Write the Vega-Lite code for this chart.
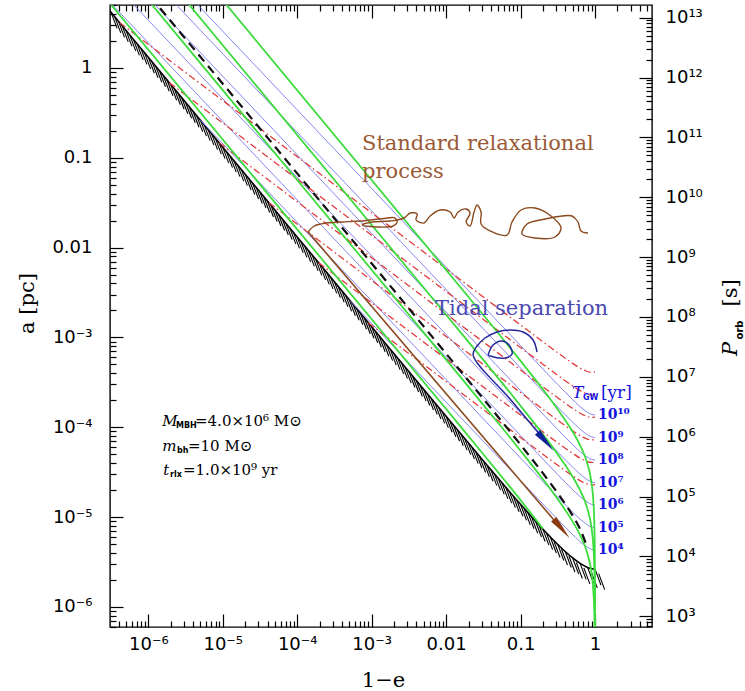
{
"$schema":"https://vega.github.io/schema/vega-lite/v6.json",
"width":542,"height":622,
"autosize":{"type":"none"},
"padding":{"left":110,"top":5,"right":93,"bottom":64},
"background":"white",
"config":{"view":{"stroke":"#000","strokeWidth":1.4}},
"datasets":{
"hatch":[{"x":3.162e-7,"y":4.159},{"x":3.981e-7,"y":3.304},{"x":5.012e-7,"y":2.624},{"x":6.31e-7,"y":2.084},{"x":7.943e-7,"y":1.656},{"x":1e-6,"y":1.315},{"x":1.259e-6,"y":1.045},{"x":1.585e-6,"y":0.8299},{"x":1.995e-6,"y":0.6592},{"x":2.512e-6,"y":0.5236},{"x":3.162e-6,"y":0.4159},{"x":3.981e-6,"y":0.3304},{"x":5.012e-6,"y":0.2624},{"x":6.31e-6,"y":0.2084},{"x":7.943e-6,"y":0.1656},{"x":1e-5,"y":0.1315},{"x":1.259e-5,"y":0.1045},{"x":1.585e-5,"y":0.08299},{"x":1.995e-5,"y":0.06592},{"x":2.512e-5,"y":0.05236},{"x":3.162e-5,"y":0.04159},{"x":3.981e-5,"y":0.03304},{"x":5.012e-5,"y":0.02624},{"x":6.31e-5,"y":0.02084},{"x":7.943e-5,"y":0.01656},{"x":1e-4,"y":0.01315},{"x":1.259e-4,"y":0.01045},{"x":1.585e-4,"y":0.008299},{"x":1.995e-4,"y":0.006592},{"x":2.512e-4,"y":0.005236},{"x":3.162e-4,"y":0.004159},{"x":3.981e-4,"y":0.003304},{"x":5.012e-4,"y":0.002624},{"x":6.31e-4,"y":0.002084},{"x":7.943e-4,"y":0.001656},{"x":0.001,"y":0.001315},{"x":0.001259,"y":0.001045},{"x":0.001585,"y":0.0008299},{"x":0.001995,"y":0.0006592},{"x":0.002512,"y":0.0005236},{"x":0.003162,"y":0.0004166},{"x":0.003981,"y":0.000331},{"x":0.005012,"y":0.000263},{"x":0.00631,"y":0.000209},{"x":0.007943,"y":0.0001662},{"x":0.01,"y":0.0001322},{"x":0.012589,"y":0.00010512},{"x":0.015849,"y":8.365e-5},{"x":0.019953,"y":6.657e-5},{"x":0.025119,"y":5.302e-5},{"x":0.031623,"y":4.227e-5},{"x":0.039811,"y":3.37e-5},{"x":0.050119,"y":2.691e-5},{"x":0.063096,"y":2.152e-5},{"x":0.079433,"y":1.724e-5},{"x":0.1,"y":1.384e-5},{"x":0.125893,"y":1.115e-5},{"x":0.158489,"y":9.012e-6},{"x":0.199526,"y":7.323e-6},{"x":0.251189,"y":5.989e-6},{"x":0.316228,"y":4.939e-6},{"x":0.398107,"y":4.124e-6},{"x":0.501187,"y":3.501e-6},{"x":0.630957,"y":3.045e-6},{"x":0.794328,"y":2.747e-6},{"x":1,"y":2.63e-6}],
"bound":[{"x":3.0e-7,"y":4.383},{"x":1e-6,"y":1.315},{"x":1e-4,"y":0.01315},{"x":0.001,"y":0.0013157},{"x":0.01,"y":0.00013216},{"x":0.031623,"y":4.2266e-5},{"x":0.1,"y":1.3842e-5},{"x":0.199526,"y":7.3232e-6},{"x":0.316228,"y":4.9392e-6},{"x":0.501187,"y":3.5015e-6},{"x":0.630957,"y":3.0451e-6},{"x":0.794328,"y":2.7467e-6},{"x":0.891251,"y":2.662e-6},{"x":1,"y":2.6303e-6}],
"gw":[
{"k":10,"x":1e-7,"y":144.2},{"k":10,"x":0.001,"y":0.04561},{"k":10,"x":0.01,"y":0.006082},{"k":10,"x":0.031623,"y":0.002222},{"k":10,"x":0.1,"y":0.0008121},{"k":10,"x":0.199526,"y":0.0004447},{"k":10,"x":0.316228,"y":0.0002987},{"k":10,"x":0.501187,"y":0.0002029},{"k":10,"x":0.707946,"y":0.0001567},{"k":10,"x":0.891251,"y":0.0001394},{"k":10,"x":1,"y":0.0001367},
{"k":9,"x":1e-7,"y":80.97},{"k":9,"x":0.001,"y":0.02561},{"k":9,"x":0.01,"y":0.003415},{"k":9,"x":0.031623,"y":0.001248},{"k":9,"x":0.1,"y":0.000456},{"k":9,"x":0.199526,"y":0.0002497},{"k":9,"x":0.316228,"y":0.0001677},{"k":9,"x":0.501187,"y":0.0001139},{"k":9,"x":0.707946,"y":8.799e-5},{"k":9,"x":0.891251,"y":7.827e-5},{"k":9,"x":1,"y":7.676e-5},
{"k":8,"x":1e-7,"y":45.46},{"k":8,"x":0.001,"y":0.01438},{"k":8,"x":0.01,"y":0.001918},{"k":8,"x":0.031623,"y":0.0007006},{"k":8,"x":0.1,"y":0.000256},{"k":8,"x":0.199526,"y":0.0001402},{"k":8,"x":0.316228,"y":9.417e-5},{"k":8,"x":0.501187,"y":6.397e-5},{"k":8,"x":0.707946,"y":4.941e-5},{"k":8,"x":0.891251,"y":4.395e-5},{"k":8,"x":1,"y":4.31e-5},
{"k":7,"x":1e-7,"y":25.53},{"k":7,"x":0.001,"y":0.008074},{"k":7,"x":0.01,"y":0.001077},{"k":7,"x":0.031623,"y":0.0003934},{"k":7,"x":0.1,"y":0.0001438},{"k":7,"x":0.199526,"y":7.873e-5},{"k":7,"x":0.316228,"y":5.288e-5},{"k":7,"x":0.501187,"y":3.592e-5},{"k":7,"x":0.707946,"y":2.774e-5},{"k":7,"x":0.891251,"y":2.468e-5},{"k":7,"x":1,"y":2.42e-5},
{"k":6,"x":1e-7,"y":14.33},{"k":6,"x":0.001,"y":0.004534},{"k":6,"x":0.01,"y":0.0006046},{"k":6,"x":0.031623,"y":0.0002209},{"k":6,"x":0.1,"y":8.073e-5},{"k":6,"x":0.199526,"y":4.42e-5},{"k":6,"x":0.316228,"y":2.969e-5},{"k":6,"x":0.501187,"y":2.017e-5},{"k":6,"x":0.707946,"y":1.558e-5},{"k":6,"x":0.891251,"y":1.386e-5},{"k":6,"x":1,"y":1.359e-5},
{"k":5,"x":5.012e-6,"y":0.2623},{"k":5,"x":0.001,"y":0.002546},{"k":5,"x":0.01,"y":0.0003394},{"k":5,"x":0.031623,"y":0.000124},{"k":5,"x":0.1,"y":4.533e-5},{"k":5,"x":0.199526,"y":2.482e-5},{"k":5,"x":0.316228,"y":1.667e-5},{"k":5,"x":0.501187,"y":1.132e-5},{"k":5,"x":0.707946,"y":8.747e-6},{"k":5,"x":0.891251,"y":7.781e-6},{"k":5,"x":1,"y":7.63e-6},
{"k":4,"x":5.129e-4,"y":0.002567},{"k":4,"x":0.001,"y":0.00143},{"k":4,"x":0.01,"y":0.0001906},{"k":4,"x":0.031623,"y":6.964e-5},{"k":4,"x":0.1,"y":2.545e-5},{"k":4,"x":0.199526,"y":1.394e-5},{"k":4,"x":0.316228,"y":9.361e-6},{"k":4,"x":0.501187,"y":6.358e-6},{"k":4,"x":0.707946,"y":4.912e-6},{"k":4,"x":0.891251,"y":4.369e-6},{"k":4,"x":1,"y":4.287e-6}],
"red":[
{"k":1,"x":4.134e-7,"y":3.182},{"k":1,"x":0.001,"y":0.02442},{"k":1,"x":0.01,"y":0.005792},{"k":1,"x":0.031623,"y":0.002821},{"k":1,"x":0.1,"y":0.001375},{"k":1,"x":0.199526,"y":0.0008951},{"k":1,"x":0.316228,"y":0.0006745},{"k":1,"x":0.501187,"y":0.0005141},{"k":1,"x":0.707946,"y":0.0004329},{"k":1,"x":0.891251,"y":0.0004078},{"k":1,"x":1,"y":0.0004117},
{"k":2,"x":1.926e-6,"y":0.6828},{"k":2,"x":0.001,"y":0.01371},{"k":2,"x":0.01,"y":0.003252},{"k":2,"x":0.031623,"y":0.001584},{"k":2,"x":0.1,"y":0.0007721},{"k":2,"x":0.199526,"y":0.0005026},{"k":2,"x":0.316228,"y":0.0003787},{"k":2,"x":0.501187,"y":0.0002887},{"k":2,"x":0.707946,"y":0.0002431},{"k":2,"x":0.891251,"y":0.000229},{"k":2,"x":1,"y":0.0002312},
{"k":3,"x":8.967e-6,"y":0.1467},{"k":3,"x":0.001,"y":0.007699},{"k":3,"x":0.01,"y":0.001826},{"k":3,"x":0.031623,"y":0.0008894},{"k":3,"x":0.1,"y":0.0004335},{"k":3,"x":0.199526,"y":0.0002822},{"k":3,"x":0.316228,"y":0.0002127},{"k":3,"x":0.501187,"y":0.0001621},{"k":3,"x":0.707946,"y":0.0001365},{"k":3,"x":0.891251,"y":0.0001286},{"k":3,"x":1,"y":0.0001298},
{"k":4,"x":4.176e-5,"y":0.03148},{"k":4,"x":0.001,"y":0.004323},{"k":4,"x":0.01,"y":0.001025},{"k":4,"x":0.031623,"y":0.0004994},{"k":4,"x":0.1,"y":0.0002434},{"k":4,"x":0.199526,"y":0.0001584},{"k":4,"x":0.316228,"y":0.0001194},{"k":4,"x":0.501187,"y":9.101e-5},{"k":4,"x":0.707946,"y":7.665e-5},{"k":4,"x":0.891251,"y":7.219e-5},{"k":4,"x":1,"y":7.287e-5},
{"k":5,"x":1.945e-4,"y":0.006761},{"k":5,"x":0.001,"y":0.002427},{"k":5,"x":0.01,"y":0.0005757},{"k":5,"x":0.031623,"y":0.0002804},{"k":5,"x":0.1,"y":0.0001367},{"k":5,"x":0.199526,"y":8.892e-5},{"k":5,"x":0.316228,"y":6.705e-5},{"k":5,"x":0.501187,"y":5.11e-5},{"k":5,"x":0.707946,"y":4.303e-5},{"k":5,"x":0.891251,"y":4.053e-5},{"k":5,"x":1,"y":4.091e-5},
{"k":6,"x":9.06e-4,"y":0.001451},{"k":6,"x":0.001,"y":0.001363},{"k":6,"x":0.01,"y":0.0003233},{"k":6,"x":0.031623,"y":0.0001574},{"k":6,"x":0.1,"y":7.674e-5},{"k":6,"x":0.199526,"y":4.993e-5},{"k":6,"x":0.316228,"y":3.765e-5},{"k":6,"x":0.501187,"y":2.869e-5},{"k":6,"x":0.707946,"y":2.416e-5},{"k":6,"x":0.891251,"y":2.276e-5},{"k":6,"x":1,"y":2.297e-5}],
"green":[
{"k":4,"x":1e-7,"y":567.6},{"k":4,"x":0.01,"y":0.005656},{"k":4,"x":0.031623,"y":0.001775},{"k":4,"x":0.1,"y":0.0005473},{"k":4,"x":0.199526,"y":0.0002636},{"k":4,"x":0.316228,"y":0.0001576},{"k":4,"x":0.501187,"y":8.892e-5},{"k":4,"x":0.630957,"y":6.29e-5},{"k":4,"x":0.794328,"y":3.87e-5},{"k":4,"x":0.891251,"y":2.496e-5},{"k":4,"x":0.95,"y":1.512e-5},{"k":4,"x":0.98,"y":8.457e-6},{"k":4,"x":0.995,"y":3.522e-6},{"k":4,"x":0.999,"y":1.274e-6},{"k":4,"x":0.9999,"y":2.976e-7},
{"k":3,"x":1e-7,"y":179.5},{"k":3,"x":0.01,"y":0.001789},{"k":3,"x":0.031623,"y":0.0005613},{"k":3,"x":0.1,"y":0.0001731},{"k":3,"x":0.199526,"y":8.336e-5},{"k":3,"x":0.316228,"y":4.984e-5},{"k":3,"x":0.501187,"y":2.812e-5},{"k":3,"x":0.630957,"y":1.989e-5},{"k":3,"x":0.794328,"y":1.224e-5},{"k":3,"x":0.891251,"y":7.893e-6},{"k":3,"x":0.95,"y":4.781e-6},{"k":3,"x":0.98,"y":2.674e-6},{"k":3,"x":0.995,"y":1.114e-6},{"k":3,"x":0.999,"y":4.03e-7},
{"k":2,"x":1e-7,"y":56.76},{"k":2,"x":0.01,"y":0.0005656},{"k":2,"x":0.031623,"y":0.0001775},{"k":2,"x":0.1,"y":5.473e-5},{"k":2,"x":0.199526,"y":2.636e-5},{"k":2,"x":0.316228,"y":1.576e-5},{"k":2,"x":0.501187,"y":8.892e-6},{"k":2,"x":0.630957,"y":6.29e-6},{"k":2,"x":0.794328,"y":3.87e-6},{"k":2,"x":0.891251,"y":2.496e-6},{"k":2,"x":0.95,"y":1.512e-6},{"k":2,"x":0.98,"y":8.457e-7},{"k":2,"x":0.995,"y":3.522e-7},
{"k":1,"x":1e-7,"y":16.0},{"k":1,"x":0.01,"y":0.0001594},{"k":1,"x":0.031623,"y":5.003e-5},{"k":1,"x":0.1,"y":1.543e-5},{"k":1,"x":0.199526,"y":7.429e-6}],
"dash":[{"x":1e-7,"y":66.2},{"x":0.01,"y":0.0006599},{"x":0.031623,"y":0.0002071},{"x":0.1,"y":6.386e-5},{"x":0.199526,"y":3.076e-5},{"x":0.316228,"y":1.839e-5},{"x":0.501187,"y":1.0375e-5},{"x":0.630957,"y":7.339e-6},{"x":0.794328,"y":4.516e-6}],
"brown":[{"x":1.405e-4,"y":0.01492},{"x":0.3715,"y":7.063e-6}],
"wig":[{"o":1,"x":1.405e-4,"y":0.01492},{"o":2,"x":1.691e-4,"y":0.0174},{"o":3,"x":2.45e-4,"y":0.01878},{"o":4,"x":4.018e-4,"y":0.01928},{"o":5,"x":7.009e-4,"y":0.01978},{"o":6,"x":0.0013,"y":0.02082},{"o":7,"x":0.002067,"y":0.02136},{"o":8,"x":0.002199,"y":0.01928},{"o":9,"x":0.001943,"y":0.0174},{"o":10,"x":0.001222,"y":0.01696},{"o":11,"x":7.456e-4,"y":0.01785},{"o":12,"x":0.001016,"y":0.01928},{"o":13,"x":0.001771,"y":0.01978},{"o":14,"x":0.00273,"y":0.02136},{"o":15,"x":0.003287,"y":0.02428},{"o":16,"x":0.004079,"y":0.02366},{"o":17,"x":0.003956,"y":0.02029},{"o":18,"x":0.005066,"y":0.01878},{"o":19,"x":0.006097,"y":0.02248},{"o":20,"x":0.008307,"y":0.02623},{"o":21,"x":0.01132,"y":0.02491},{"o":22,"x":0.0128,"y":0.02136},{"o":23,"x":0.01449,"y":0.02491},{"o":24,"x":0.01856,"y":0.0269},{"o":25,"x":0.02099,"y":0.02428},{"o":26,"x":0.01856,"y":0.01928},{"o":27,"x":0.02099,"y":0.0174},{"o":28,"x":0.02375,"y":0.02491},{"o":29,"x":0.02607,"y":0.0298},{"o":30,"x":0.0295,"y":0.02491},{"o":31,"x":0.0295,"y":0.01831},{"o":32,"x":0.03897,"y":0.01531},{"o":33,"x":0.06589,"y":0.01381},{"o":34,"x":0.07688,"y":0.01928},{"o":35,"x":0.1016,"y":0.02623},{"o":36,"x":0.1565,"y":0.02761},{"o":37,"x":0.2566,"y":0.02248},{"o":38,"x":0.3496,"y":0.01653},{"o":39,"x":0.2904,"y":0.01312},{"o":40,"x":0.1565,"y":0.01279},{"o":41,"x":0.1047,"y":0.01417},{"o":42,"x":0.1222,"y":0.01831},{"o":43,"x":0.2133,"y":0.02082},{"o":44,"x":0.3606,"y":0.02248},{"o":45,"x":0.4913,"y":0.02248},{"o":46,"x":0.5911,"y":0.01928},{"o":47,"x":0.6486,"y":0.01531},{"o":48,"x":0.8055,"y":0.01454}],
"tid":[{"s":1,"o":1,"x":0.1665,"y":6.879e-4},{"s":1,"o":2,"x":0.1472,"y":9.355e-4},{"s":1,"o":3,"x":0.108,"y":0.001148},{"s":1,"o":4,"x":0.07226,"y":0.001209},{"s":1,"o":5,"x":0.04837,"y":0.001148},{"s":1,"o":6,"x":0.03338,"y":9.847e-4},{"s":1,"o":7,"x":0.02607,"y":8.02e-4},{"s":1,"o":8,"x":0.02304,"y":6.368e-4},{"s":1,"o":9,"x":0.07226,"y":2.061e-4},{"s":1,"o":10,"x":0.2268,"y":6.669e-5},
{"s":2,"o":1,"x":0.03663,"y":6.368e-4},{"s":2,"o":2,"x":0.04274,"y":8.229e-4},{"s":2,"o":3,"x":0.05644,"y":9.119e-4},{"s":2,"o":4,"x":0.07006,"y":8.229e-4},{"s":2,"o":5,"x":0.07688,"y":6.533e-4},{"s":2,"o":6,"x":0.06191,"y":5.897e-4},{"s":2,"o":7,"x":0.03897,"y":6.206e-4},{"s":2,"o":8,"x":0.03663,"y":6.368e-4}],
"arrB":[{"x":0.3285,"y":8.063e-6}],
"arrT":[{"x":0.2002,"y":7.483e-5}],
"tlab":[{"x":1,"y":1.367e-4,"t":"10¹⁰"},{"x":1,"y":7.676e-5,"t":"10⁹"},{"x":1,"y":4.31e-5,"t":"10⁸"},{"x":1,"y":2.42e-5,"t":"10⁷"},{"x":1,"y":1.359e-5,"t":"10⁶"},{"x":1,"y":7.63e-6,"t":"10⁵"},{"x":1,"y":4.287e-6,"t":"10⁴"}],
"brownTxt":[{"x":7.42e-4,"y":0.1425,"t":"Standard relaxational"},{"x":7.42e-4,"y":0.06948,"t":"process"}],
"tidTxt":[{"x":7.096e-3,"y":2.071e-3,"t":"Tidal separation"}],
"parI":[{"x":1.541e-6,"y":1.172e-4,"t":"M"},{"x":1.541e-6,"y":6.174e-5,"t":"m"},{"x":1.589e-6,"y":3.337e-5,"t":"t"}],
"parS":[{"x":2.355e-6,"y":1.172e-4,"t":"MBH"},{"x":2.429e-6,"y":6.174e-5,"t":"bh"},{"x":1.956e-6,"y":3.337e-5,"t":"rlx"}],
"parU":[{"x":4.239e-6,"y":1.172e-4,"t":"=4.0×10⁶ M⊙"},{"x":3.414e-6,"y":6.174e-5,"t":"=10 M⊙"},{"x":2.924e-6,"y":3.337e-5,"t":"=1.0×10⁹ yr"}],
"tgwI":[{"x":0.4911,"y":2.403e-4,"t":"T"}],
"tgwS":[{"x":0.6899,"y":2.403e-4,"t":"GW"}],
"tgwU":[{"x":1.2,"y":2.403e-4,"t":"[yr]"}],
"porbI":[{"x":66.92,"y":7.426e-4,"t":"P"}],
"porbS":[{"x":88.35,"y":1.209e-3,"t":"orb"}],
"porbU":[{"x":66.92,"y":3.123e-3,"t":"[s]"}]
},
"layer":[
{
"encoding":{
"x":{"field":"x","type":"quantitative","scale":{"type":"log","domain":[3.058e-7,5.831],"nice":false},
"axis":{"orient":"bottom","values":[4e-7,5e-7,6e-7,7e-7,8e-7,9e-7,1e-6,2e-6,3e-6,4e-6,5e-6,6e-6,7e-6,8e-6,9e-6,1e-5,2e-5,3e-5,4e-5,5e-5,6e-5,7e-5,8e-5,9e-5,1e-4,2e-4,3e-4,4e-4,5e-4,6e-4,7e-4,8e-4,9e-4,0.001,0.002,0.003,0.004,0.005,0.006,0.007,0.008,0.009,0.01,0.02,0.03,0.04,0.05,0.06,0.07,0.08,0.09,0.1,0.2,0.3,0.4,0.5,0.6,0.7,0.8,0.9,1,2,3,4,5],
"labelExpr":"abs(log(datum.value)/LN10-round(log(datum.value)/LN10))<0.0001 ? (datum.value>=0.005 ? ''+datum.value : '10⁻'+['','¹','²','³','⁴','⁵','⁶','⁷'][-round(log(datum.value)/LN10)]) : ''",
"tickSize":{"condition":{"test":"abs(log(datum.value)/LN10-round(log(datum.value)/LN10))<0.0001","value":-13},"value":-6},
"labelPadding":21,"tickColor":"#000","tickWidth":1.2,"domain":false,"grid":false,
"labelFont":"DejaVu Sans","labelFontSize":18,"labelColor":"#000","labelOverlap":false,"labelFlush":false,"labelBound":false,
"title":"1−e","titleFont":"DejaVu Serif","titleFontSize":21,"titleFontWeight":"normal","titleColor":"#000","titleX":273,"titleY":53,"titleBaseline":"middle","titleAlign":"center"}},
"y":{"field":"y","type":"quantitative","scale":{"type":"log","domain":[5.959e-7,5.029],"nice":false},
"axis":{"orient":"left","values":[6e-7,7e-7,8e-7,9e-7,1e-6,2e-6,3e-6,4e-6,5e-6,6e-6,7e-6,8e-6,9e-6,1e-5,2e-5,3e-5,4e-5,5e-5,6e-5,7e-5,8e-5,9e-5,1e-4,2e-4,3e-4,4e-4,5e-4,6e-4,7e-4,8e-4,9e-4,0.001,0.002,0.003,0.004,0.005,0.006,0.007,0.008,0.009,0.01,0.02,0.03,0.04,0.05,0.06,0.07,0.08,0.09,0.1,0.2,0.3,0.4,0.5,0.6,0.7,0.8,0.9,1,2,3,4,5],
"labelExpr":"abs(log(datum.value)/LN10-round(log(datum.value)/LN10))<0.0001 ? (datum.value>=0.005 ? ''+datum.value : '10⁻'+['','¹','²','³','⁴','⁵','⁶','⁷'][-round(log(datum.value)/LN10)]) : ''",
"tickSize":{"condition":{"test":"abs(log(datum.value)/LN10-round(log(datum.value)/LN10))<0.0001","value":-13},"value":-6},
"labelPadding":31,"tickColor":"#000","tickWidth":1.2,"domain":false,"grid":false,
"labelFont":"DejaVu Sans","labelFontSize":18,"labelColor":"#000","labelOverlap":false,"labelFlush":false,"labelBound":false,
"title":"a   [pc]","titleFont":"DejaVu Serif","titleFontSize":21,"titleFontWeight":"normal","titleColor":"#000","titleX":-83,"titleY":298,"titleAngle":270,"titleBaseline":"middle","titleAlign":"center"}}
},
"layer":[
{"data":{"name":"hatch"},"mark":{"type":"point","shape":"M0,0L3,8","size":16,"filled":false,"stroke":"#000","strokeWidth":1.1,"opacity":1,"clip":true}},
{"data":{"name":"hatch"},"mark":{"type":"point","shape":"M0,0L3,8","size":16,"filled":false,"stroke":"#000","strokeWidth":1.1,"opacity":1,"clip":true,"xOffset":3.7,"yOffset":4.5}},
{"data":{"name":"bound"},"mark":{"type":"line","color":"#000","strokeWidth":1.6,"interpolate":"monotone","clip":true}},
{"data":{"name":"gw"},"mark":{"type":"line","color":"#7878f0","strokeWidth":0.9,"interpolate":"monotone","clip":true},"encoding":{"detail":{"field":"k"}}},
{"data":{"name":"red"},"mark":{"type":"line","color":"#e23b3b","strokeWidth":1.3,"strokeDash":[7,3,1.5,3],"interpolate":"monotone","clip":true},"encoding":{"detail":{"field":"k"}}},
{"data":{"name":"green"},"mark":{"type":"line","color":"#3cdc3c","strokeWidth":1.8,"interpolate":"monotone","clip":true},"encoding":{"detail":{"field":"k"}}},
{"data":{"name":"dash"},"mark":{"type":"line","color":"#111","strokeWidth":2.2,"strokeDash":[9,6],"interpolate":"monotone","clip":true}},
{"data":{"name":"brown"},"mark":{"type":"line","color":"#8b4a1e","strokeWidth":1.6,"clip":true}},
{"data":{"name":"wig"},"mark":{"type":"line","color":"#8b4a1e","strokeWidth":1.4,"interpolate":"catmull-rom","clip":true},"encoding":{"order":{"field":"o"}}},
{"data":{"name":"tid"},"mark":{"type":"line","color":"#26289a","strokeWidth":1.5,"interpolate":"catmull-rom","clip":true},"encoding":{"order":{"field":"o"},"detail":{"field":"s"}}},
{"data":{"name":"arrB"},"mark":{"type":"point","shape":"wedge","angle":140,"size":800,"filled":true,"color":"#8b3a10","opacity":1}},
{"data":{"name":"arrT"},"mark":{"type":"point","shape":"wedge","angle":139,"size":800,"filled":true,"color":"#10209a","opacity":1}},
{"data":{"name":"tlab"},"mark":{"type":"text","align":"left","baseline":"middle","dx":3,"font":"DejaVu Serif","fontWeight":"bold","fontSize":14,"color":"#1414e0"},"encoding":{"text":{"field":"t"}}},
{"data":{"name":"brownTxt"},"mark":{"type":"text","align":"left","baseline":"middle","font":"DejaVu Serif","fontSize":21,"color":"#9a5a36"},"encoding":{"text":{"field":"t"}}},
{"data":{"name":"tidTxt"},"mark":{"type":"text","align":"left","baseline":"middle","font":"DejaVu Serif","fontSize":21,"color":"#4a4ab0"},"encoding":{"text":{"field":"t"}}},
{"data":{"name":"parI"},"mark":{"type":"text","align":"left","baseline":"middle","font":"DejaVu Serif","fontStyle":"italic","fontSize":15,"color":"#000"},"encoding":{"text":{"field":"t"}}},
{"data":{"name":"parS"},"mark":{"type":"text","align":"left","baseline":"middle","dy":5,"font":"DejaVu Sans","fontWeight":"bold","fontSize":8,"color":"#000"},"encoding":{"text":{"field":"t"}}},
{"data":{"name":"parU"},"mark":{"type":"text","align":"left","baseline":"middle","font":"DejaVu Serif","fontSize":15,"color":"#000"},"encoding":{"text":{"field":"t"}}},
{"data":{"name":"tgwI"},"mark":{"type":"text","align":"left","baseline":"middle","font":"DejaVu Serif","fontStyle":"italic","fontSize":17,"color":"#1414e0"},"encoding":{"text":{"field":"t"}}},
{"data":{"name":"tgwS"},"mark":{"type":"text","align":"left","baseline":"middle","dy":5,"font":"DejaVu Sans","fontWeight":"bold","fontSize":8,"color":"#1414e0"},"encoding":{"text":{"field":"t"}}},
{"data":{"name":"tgwU"},"mark":{"type":"text","align":"left","baseline":"middle","font":"DejaVu Serif","fontSize":17,"color":"#1414e0"},"encoding":{"text":{"field":"t"}}},
{"data":{"name":"porbI"},"mark":{"type":"text","align":"center","baseline":"middle","angle":270,"font":"DejaVu Serif","fontStyle":"italic","fontSize":21,"color":"#000"},"encoding":{"text":{"field":"t"}}},
{"data":{"name":"porbS"},"mark":{"type":"text","align":"center","baseline":"middle","angle":270,"font":"DejaVu Sans","fontWeight":"bold","fontSize":10,"color":"#000"},"encoding":{"text":{"field":"t"}}},
{"data":{"name":"porbU"},"mark":{"type":"text","align":"center","baseline":"middle","angle":270,"font":"DejaVu Serif","fontSize":21,"color":"#000"},"encoding":{"text":{"field":"t"}}}
]
},
{
"data":{"values":[{"x":0.001,"p":1000000}]},
"mark":{"type":"point","opacity":0},
"encoding":{
"x":{"field":"x","type":"quantitative","scale":{"type":"log","domain":[3.058e-7,5.831],"nice":false},
"axis":{"orient":"top","values":[4e-7,5e-7,6e-7,7e-7,8e-7,9e-7,1e-6,2e-6,3e-6,4e-6,5e-6,6e-6,7e-6,8e-6,9e-6,1e-5,2e-5,3e-5,4e-5,5e-5,6e-5,7e-5,8e-5,9e-5,1e-4,2e-4,3e-4,4e-4,5e-4,6e-4,7e-4,8e-4,9e-4,0.001,0.002,0.003,0.004,0.005,0.006,0.007,0.008,0.009,0.01,0.02,0.03,0.04,0.05,0.06,0.07,0.08,0.09,0.1,0.2,0.3,0.4,0.5,0.6,0.7,0.8,0.9,1,2,3,4,5],
"labels":false,"title":null,"domain":false,"grid":false,"tickColor":"#000","tickWidth":1.2,
"tickSize":{"condition":{"test":"abs(log(datum.value)/LN10-round(log(datum.value)/LN10))<0.0001","value":-13},"value":-6}}},
"y":{"field":"p","type":"quantitative","scale":{"type":"log","domain":[663.4,1.627e13],"nice":false},
"axis":{"orient":"right","values":[700,800,900,1e3,2e3,3e3,4e3,5e3,6e3,7e3,8e3,9e3,1e4,2e4,3e4,4e4,5e4,6e4,7e4,8e4,9e4,1e5,2e5,3e5,4e5,5e5,6e5,7e5,8e5,9e5,1e6,2e6,3e6,4e6,5e6,6e6,7e6,8e6,9e6,1e7,2e7,3e7,4e7,5e7,6e7,7e7,8e7,9e7,1e8,2e8,3e8,4e8,5e8,6e8,7e8,8e8,9e8,1e9,2e9,3e9,4e9,5e9,6e9,7e9,8e9,9e9,1e10,2e10,3e10,4e10,5e10,6e10,7e10,8e10,9e10,1e11,2e11,3e11,4e11,5e11,6e11,7e11,8e11,9e11,1e12,2e12,3e12,4e12,5e12,6e12,7e12,8e12,9e12,1e13],
"labelExpr":"abs(log(datum.value)/LN10-round(log(datum.value)/LN10))<0.0001 ? '10'+(round(log(datum.value)/LN10)>=10 ? '¹'+['⁰','¹','²','³'][round(log(datum.value)/LN10)-10] : ['⁰','¹','²','³','⁴','⁵','⁶','⁷','⁸','⁹'][round(log(datum.value)/LN10)]) : ''",
"tickSize":{"condition":{"test":"abs(log(datum.value)/LN10-round(log(datum.value)/LN10))<0.0001","value":-13},"value":-6},
"labelPadding":26,"tickColor":"#000","tickWidth":1.2,"domain":false,"grid":false,
"labelFont":"DejaVu Sans","labelFontSize":18,"labelColor":"#000","labelOverlap":false,"labelFlush":false,"labelBound":false,"title":null}}
}
}
],
"resolve":{"scale":{"y":"independent"},"axis":{"x":"independent","y":"independent"}}
}
